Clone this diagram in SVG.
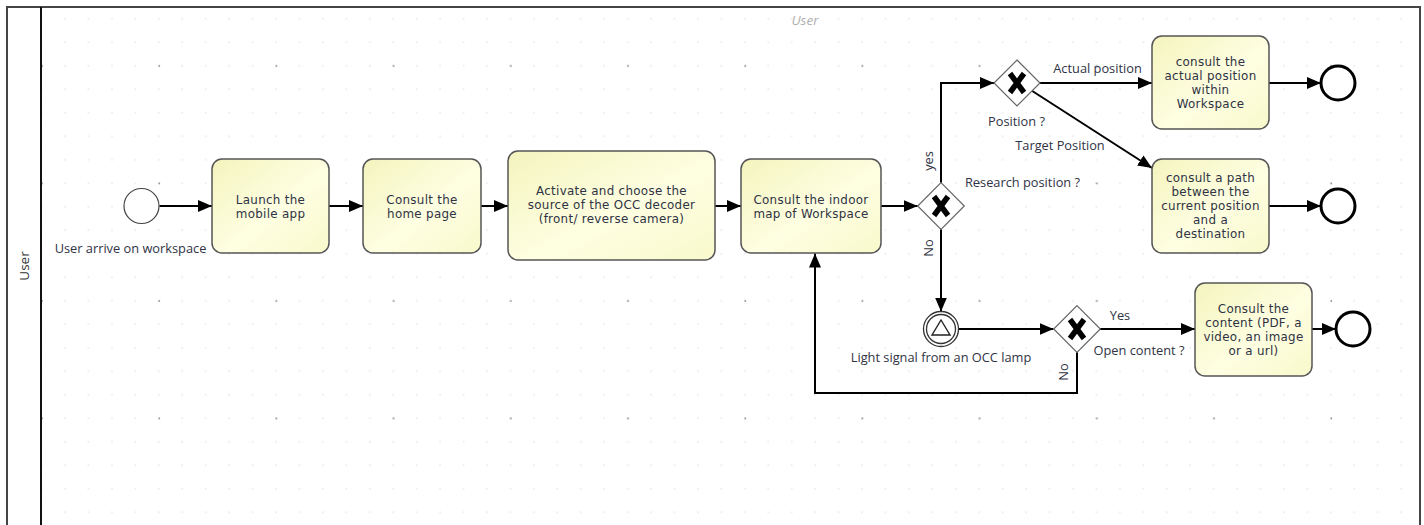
<svg xmlns="http://www.w3.org/2000/svg" width="1424" height="525" viewBox="0 0 1424 525">
<style>
.task{fill:url(#tg);stroke:#555;stroke-width:1.5}
.tt{font-family:"DejaVu Sans","Open Sans",sans-serif;font-size:11.9px;letter-spacing:0.3px;fill:#2f3344;text-anchor:middle}
.lb{font-family:"Open Sans","Liberation Sans",sans-serif;font-size:12.8px;fill:#2f3344;text-anchor:middle}
.gw{fill:#fff;stroke:#666;stroke-width:1.2}
.gx{stroke:#000;stroke-width:5.5;fill:none}
.end{fill:#fff;stroke:#000;stroke-width:3}
.start{fill:#fff;stroke:#444;stroke-width:1.2}
.ie{fill:#fff;stroke:#333;stroke-width:1.3}
.ca{fill:none;stroke:#000;stroke-width:2;marker-end:url(#arr)}
</style>
<defs>
<linearGradient id="tg" x1="0" y1="0" x2="1" y2="1">
<stop offset="0" stop-color="#f4f4be"/>
<stop offset="0.55" stop-color="#fefee2"/>
<stop offset="1" stop-color="#f9f9cc"/>
</linearGradient>
<pattern id="gmin" patternUnits="userSpaceOnUse" x="53.28" y="6.95" width="23.44" height="23.5">
<rect x="11.22" y="11.25" width="1.1" height="1.1" fill="#cfcfcf"/>
</pattern>
<pattern id="gmaj" patternUnits="userSpaceOnUse" x="100.4" y="7" width="117.2" height="117.5">
<rect x="58.1" y="58.2" width="1.6" height="1.6" fill="#8a8a8a"/>
</pattern>
<clipPath id="lc"><rect x="42" y="8" width="1377" height="520"/></clipPath>
<marker id="arr" viewBox="0 0 14 12" refX="14" refY="6" markerWidth="14" markerHeight="12" markerUnits="userSpaceOnUse" orient="auto">
<path d="M0,0 L14,6 L0,12 z" fill="#000"/>
</marker>
</defs>
<rect x="0" y="0" width="1424" height="525" fill="#fff"/>
<g id="lane">
<rect x="7" y="7" width="1413" height="530" fill="#fff" stroke="#444" stroke-width="2"/>
<g clip-path="url(#lc)">
<rect x="42" y="8" width="1377" height="520" fill="url(#gmin)"/>
<rect x="42" y="8" width="1377" height="520" fill="url(#gmaj)"/>
</g>
<line x1="41" y1="7" x2="41" y2="525" stroke="#111" stroke-width="2"/>
<text x="24" y="266" transform="rotate(-90 24 266)" font-family="'Open Sans','Liberation Sans',sans-serif" font-size="13.5" fill="#333" text-anchor="middle" dominant-baseline="central">User</text>
<text x="805" y="24.5" font-family="'Open Sans','Liberation Sans',sans-serif" font-size="13.5" font-style="italic" fill="#b0b0b0" text-anchor="middle">User</text>
</g>
<g id="connectors">
<line class="ca" x1="159.5" y1="206" x2="212" y2="206"/>
<line class="ca" x1="329" y1="206" x2="363" y2="206"/>
<line class="ca" x1="481" y1="206" x2="508" y2="206"/>
<line class="ca" x1="715" y1="206" x2="741" y2="206"/>
<line class="ca" x1="881" y1="206" x2="917.7" y2="206"/>
<polyline class="ca" points="941,182.7 941,83 994,83"/>
<line class="ca" x1="941" y1="229.3" x2="941" y2="311.5"/>
<line class="ca" x1="1040" y1="83" x2="1152" y2="83"/>
<line class="ca" x1="1031.5" y1="90.5" x2="1152" y2="168"/>
<line class="ca" x1="1269" y1="83" x2="1321" y2="83"/>
<line class="ca" x1="1269" y1="206" x2="1321" y2="206"/>
<line class="ca" x1="958.5" y1="329" x2="1053.5" y2="329"/>
<line class="ca" x1="1100" y1="329" x2="1195" y2="329"/>
<polyline class="ca" points="1077,352.3 1077,393 815,393 815,253.5"/>
<line class="ca" x1="1312" y1="329" x2="1336" y2="329"/>
<text class="lb" x="928" y="161" transform="rotate(-90 928 161)" dominant-baseline="central">yes</text>
<text class="lb" x="928" y="248" transform="rotate(-90 928 248)" dominant-baseline="central">No</text>
<text class="lb" x="1063" y="372" transform="rotate(-90 1063 372)" dominant-baseline="central">No</text>
<text class="lb" x="1097.5" y="72.5">Actual position</text>
<text class="lb" x="1060" y="149.5">Target Position</text>
<text class="lb" x="1120" y="319.5">Yes</text>
</g>
<g id="start">
<circle class="start" cx="141.5" cy="206" r="17.5"/>
<text class="lb" x="130.5" y="253">User arrive on workspace</text>
</g>
<g id="t_launch">
<rect class="task" x="212" y="159" width="117" height="94" rx="10"/>
<text class="tt" x="270.5" y="203.5">Launch the<tspan x="270.5" dy="14">mobile app</tspan></text>
</g>
<g id="t_home">
<rect class="task" x="363" y="159" width="118" height="94" rx="10"/>
<text class="tt" x="422" y="203.5">Consult the<tspan x="422" dy="14">home page</tspan></text>
</g>
<g id="t_activate">
<rect class="task" x="508" y="151" width="207" height="109" rx="10"/>
<text class="tt" x="611.5" y="195">Activate and choose the<tspan x="611.5" dy="14">source of the OCC decoder</tspan><tspan x="611.5" dy="14">(front/ reverse camera)</tspan></text>
</g>
<g id="t_indoor">
<rect class="task" x="741" y="159" width="140" height="94" rx="10"/>
<text class="tt" x="811" y="203.5">Consult the indoor<tspan x="811" dy="14">map of Workspace</tspan></text>
</g>
<g id="gw_research">
<polygon class="gw" points="941,182.7 964.3,206 941,229.3 917.7,206"/>
<path class="gx" d="M934,196.5 L948,215.5 M948,196.5 L934,215.5"/>
<text class="lb" x="1022.5" y="186.5">Research position ?</text>
</g>
<g id="gw_position">
<polygon class="gw" points="1017,60 1040,83 1017,106 994,83"/>
<path class="gx" d="M1010,73.5 L1024,92.5 M1024,73.5 L1010,92.5" stroke="#4a0c0c"/>
<text class="lb" x="1016.5" y="125.5">Position ?</text>
</g>
<g id="t_actual">
<rect class="task" x="1152" y="36" width="117" height="93" rx="10"/>
<text class="tt" x="1210.5" y="66">consult the<tspan x="1210.5" dy="14">actual position</tspan><tspan x="1210.5" dy="14">within</tspan><tspan x="1210.5" dy="14">Workspace</tspan></text>
</g>
<g id="t_path">
<rect class="task" x="1152" y="159" width="117" height="94" rx="10"/>
<text class="tt" x="1210.5" y="182">consult a path<tspan x="1210.5" dy="14">between the</tspan><tspan x="1210.5" dy="14">current position</tspan><tspan x="1210.5" dy="14">and a</tspan><tspan x="1210.5" dy="14">destination</tspan></text>
</g>
<g id="end1"><circle class="end" cx="1338" cy="83" r="17"/></g>
<g id="end2"><circle class="end" cx="1338" cy="206" r="17"/></g>
<g id="ev_light">
<circle class="ie" cx="941" cy="329" r="17.5"/>
<circle class="ie" cx="941" cy="329" r="14.5"/>
<polygon points="941,320 950,335 932,335" fill="none" stroke="#222" stroke-width="1.4"/>
<text class="lb" x="941" y="362">Light signal from an OCC lamp</text>
</g>
<g id="gw_content">
<polygon class="gw" points="1077,305.7 1100.3,329 1077,352.3 1053.7,329"/>
<path class="gx" d="M1070,319.5 L1084,338.5 M1084,319.5 L1070,338.5"/>
<text class="lb" x="1139" y="354.5">Open content ?</text>
</g>
<g id="t_content">
<rect class="task" x="1195" y="283" width="117" height="93" rx="10"/>
<text class="tt" x="1253.5" y="312.5">Consult the<tspan x="1253.5" dy="14">content (PDF, a</tspan><tspan x="1253.5" dy="14">video, an image</tspan><tspan x="1253.5" dy="14">or a url)</tspan></text>
</g>
<g id="end3"><circle class="end" cx="1353" cy="329" r="17"/></g>
</svg>
